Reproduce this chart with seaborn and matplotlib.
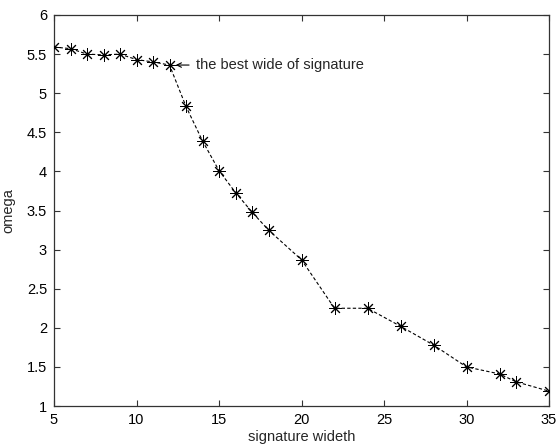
import matplotlib
matplotlib.use("Agg")
import matplotlib.pyplot as plt
import seaborn as sns
import pandas as pd

width = [5, 6, 7, 8, 9, 10, 11, 12, 13, 14, 15, 16, 17, 18, 20, 22, 24, 26, 28, 30, 32, 33, 35]
omega = [5.59, 5.57, 5.50, 5.49, 5.50, 5.43, 5.40, 5.36, 4.83, 4.39, 4.01, 3.73, 3.48, 3.25,
         2.87, 2.25, 2.25, 2.02, 1.78, 1.50, 1.41, 1.31, 1.19]
x_ticks = [5, 10, 15, 20, 25, 30, 35]
y_ticks = [1, 1.5, 2, 2.5, 3, 3.5, 4, 4.5, 5, 5.5, 6]
y_tick_labels = ["1", "1.5", "2", "2.5", "3", "3.5", "4", "4.5", "5", "5.5", "6"]

df = pd.DataFrame({"width": width, "omega": omega})

sns.set_style("white")
plt.rcParams['font.family'] = ['Liberation Sans', 'DejaVu Sans']

fig = plt.figure(figsize=(5.56, 4.46), dpi=100)
ax = fig.add_axes([54/556, 1 - 406/446, (549-54)/556, (406-15)/446])

sns.lineplot(data=df, x="width", y="omega", ax=ax, color="black", linestyle=(0, (3, 2)),
             linewidth=0.8, marker=(8, 2, 0), markersize=9, markeredgecolor="black",
             markerfacecolor="black", markeredgewidth=0.7)
sns.scatterplot(data=df, x="width", y="omega", ax=ax, color="black", s=6, linewidth=0,
                zorder=5)

ax.set_xlim(5, 35)
ax.set_ylim(1, 6)
ax.set_xticks(x_ticks)
ax.set_yticks(y_ticks)
ax.set_yticklabels(y_tick_labels)
ax.tick_params(direction="in", length=4, width=0.8, colors="#333333", labelsize=10.5,
               labelcolor="black", top=True, right=True, bottom=True, left=True, pad=5)
for s in ax.spines.values():
    s.set_color("#333333")
    s.set_linewidth(0.9)

ax.set_xlabel("signature wideth", fontsize=10.5, labelpad=2)
ax.set_ylabel("omega", fontsize=10.5, labelpad=8)

ax.annotate("the best wide of signature", xy=(width[7], omega[7]),
            xytext=(27, 0), textcoords="offset pixels", fontsize=10.5,
            va="center", ha="left",
            arrowprops=dict(arrowstyle="->", color="black", lw=0.8,
                            shrinkA=3, shrinkB=4.5, mutation_scale=8))

fig.savefig("out.png", dpi=100, facecolor="white")
